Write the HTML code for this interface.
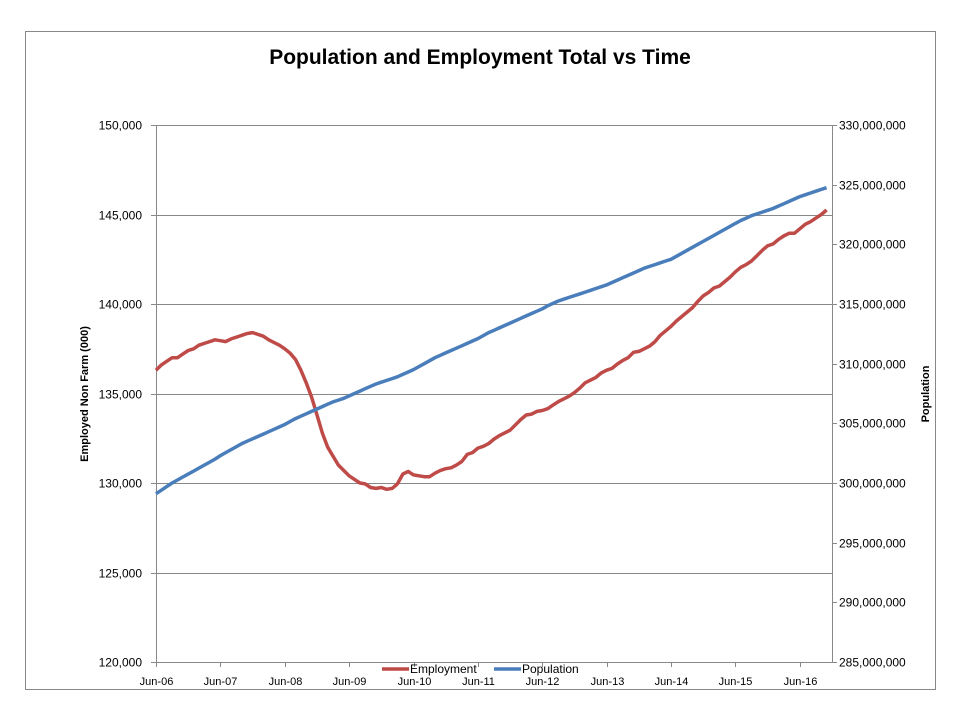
<!DOCTYPE html>
<html><head><meta charset="utf-8"><style>
body{margin:0;background:#fff;font-family:"Liberation Sans",sans-serif;}
svg text{font-family:"Liberation Sans",sans-serif;}
</style></head><body>
<svg width="960" height="720" xmlns="http://www.w3.org/2000/svg">
<rect x="25.5" y="31.5" width="910" height="658" fill="#fff" stroke="#888" stroke-width="1"/>
<text x="480" y="64" text-anchor="middle" font-size="21" font-weight="bold">Population and Employment Total vs Time</text>
<g id="grid"></g>
<g id="axes"></g>
<g id="series"></g>
<text transform="translate(88,394) rotate(-90)" text-anchor="middle" font-size="11" font-weight="bold">Employed Non Farm (000)</text>
<text transform="translate(929,394) rotate(-90)" text-anchor="middle" font-size="11" font-weight="bold">Population</text>
<g>
<g><line x1="382" y1="669" x2="409" y2="669" stroke="#be4b48" stroke-width="3.5"/><text x="410" y="673" font-size="12">Employment</text></g>
<g><line x1="494" y1="669" x2="521" y2="669" stroke="#4a7ebb" stroke-width="3.5"/><text x="522" y="673" font-size="12">Population</text></g>
</g>
</svg>
<script>
const xLabels=["Jun-06","Jun-07","Jun-08","Jun-09","Jun-10","Jun-11","Jun-12","Jun-13","Jun-14","Jun-15","Jun-16"];
const leftTicks=[120000,125000,130000,135000,140000,145000,150000];
const rightTicks=[285000000,290000000,295000000,300000000,305000000,310000000,315000000,320000000,325000000,330000000];
const employment=[136.3,136.6,136.8,137.0,137.0,137.2,137.4,
137.5,137.7,137.8,137.9,138.0,137.95,137.9,138.05,138.15,138.25,138.35,138.4,
138.3,138.2,138.0,137.85,137.7,137.5,137.25,136.9,136.3,135.6,134.8,133.8,
132.8,132.0,131.5,131.0,130.7,130.4,130.2,130.0,129.95,129.75,129.7,129.75,
129.65,129.7,129.95,130.5,130.65,130.45,130.4,130.35,130.35,130.55,130.7,130.8,
130.85,131.0,131.2,131.6,131.7,131.95,132.05,132.2,132.45,132.65,132.8,132.95,
133.25,133.55,133.8,133.85,134.0,134.05,134.15,134.35,134.55,134.7,134.85,135.05,
135.3,135.6,135.75,135.9,136.15,136.3,136.4,136.65,136.85,137.0,137.3,137.35,
137.5,137.65,137.9,138.25,138.5,138.75,139.05,139.3,139.55,139.8,140.15,140.45,
140.65,140.9,141.0,141.25,141.5,141.8,142.05,142.2,142.4,142.7,143.0,143.25,
143.35,143.6,143.8,143.95,143.95,144.2,144.45,144.6,144.8,145.0,145.25];
const population=[299.1,299.4,299.7,300.0,300.25,300.5,300.75,
301.0,301.25,301.5,301.75,302.0,302.3,302.55,302.8,303.05,303.3,303.5,303.7,
303.9,304.1,304.3,304.5,304.7,304.9,305.15,305.4,305.6,305.8,306.0,306.2,
306.4,306.6,306.8,306.95,307.1,307.3,307.5,307.7,307.9,308.1,308.3,308.45,
308.6,308.75,308.9,309.1,309.3,309.5,309.75,310.0,310.25,310.5,310.7,310.9,
311.1,311.3,311.5,311.7,311.9,312.1,312.35,312.6,312.8,313.0,313.2,313.4,
313.6,313.8,314.0,314.2,314.4,314.6,314.85,315.05,315.25,315.4,315.55,315.7,
315.85,316.0,316.15,316.3,316.45,316.6,316.8,317.0,317.2,317.4,317.6,317.8,
318.0,318.15,318.3,318.45,318.6,318.75,319.0,319.25,319.5,319.75,320.0,320.25,
320.5,320.75,321.0,321.25,321.5,321.75,322.0,322.2,322.4,322.55,322.7,322.85,
323.0,323.2,323.4,323.6,323.8,324.0,324.15,324.3,324.45,324.6,324.75];
const NS="http://www.w3.org/2000/svg";
const L=156,R=832,T=125,B=662,MONTHS=126;
const xMonth=i=>L+i*(R-L)/MONTHS;
const yLeft=v=>B-(v-120000)/30000*(B-T);
const yRight=v=>B-(v-285000000)/45000000*(B-T);
function mk(tag,attrs,parent){const e=document.createElementNS(NS,tag);for(const k in attrs)e.setAttribute(k,attrs[k]);parent.appendChild(e);return e;}
const grid=document.getElementById('grid'),axes=document.getElementById('axes'),series=document.getElementById('series');
leftTicks.forEach(v=>{
  const y=Math.round(yLeft(v))+0.5;
  if(v>120000){const g=mk('line',{x1:L,x2:R,y1:y,y2:y,stroke:'#888','stroke-width':1},grid);
  
  }
  mk('line',{x1:L-5,x2:L,y1:y,y2:y,stroke:'#888'},axes);
  const t=mk('text',{x:L-14,y:y+4,'text-anchor':'end','font-size':12},axes);
  t.textContent=v.toLocaleString('en-US');
  
  
});
rightTicks.forEach(v=>{
  const y=Math.round(yRight(v))+0.5;
  mk('line',{x1:R,x2:R+5,y1:y,y2:y,stroke:'#888'},axes);
  const t=mk('text',{x:R+7,y:y+4,'font-size':12},axes);
  t.textContent=v.toLocaleString('en-US');
  
  
});
xLabels.forEach((s,i)=>{
  const x=Math.round(xMonth(i*12))+0.5;
  mk('line',{x1:x,x2:x,y1:B,y2:B+5,stroke:'#888'},axes);
  const t=mk('text',{x:x,y:B+23,'text-anchor':'middle','font-size':11},axes);
  t.textContent=s;
  
  
});
mk('line',{x1:L+0.5,x2:L+0.5,y1:T,y2:B,stroke:'#888'},axes);
mk('line',{x1:R+0.5,x2:R+0.5,y1:T,y2:B,stroke:'#888'},axes);
mk('line',{x1:L,x2:R,y1:B+0.5,y2:B+0.5,stroke:'#888'},axes);
const pe=mk('polyline',{points:employment.map((v,i)=>xMonth(i).toFixed(1)+','+yLeft(v*1000).toFixed(1)).join(' '),fill:'none',stroke:'#be4b48','stroke-width':3.5,'stroke-linejoin':'round'},series);


const pp=mk('polyline',{points:population.map((v,i)=>xMonth(i).toFixed(1)+','+yRight(v*1e6).toFixed(1)).join(' '),fill:'none',stroke:'#4a7ebb','stroke-width':3.5,'stroke-linejoin':'round'},series);


</script>
</body></html>
